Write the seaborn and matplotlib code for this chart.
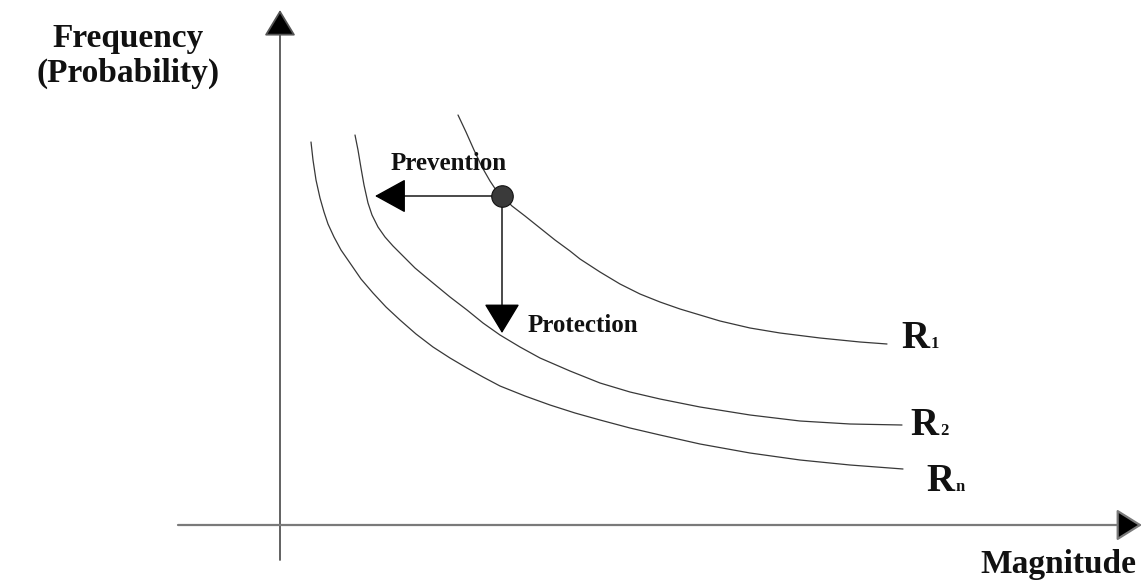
import matplotlib
matplotlib.use("Agg")
import matplotlib.pyplot as plt
import numpy as np
import pandas as pd
import seaborn as sns

# ---- data (diagram coordinates, y grows downward) ----
curve_names = ["R1", "R2", "Rn"]
curve_main = ["R", "R", "R"]
curve_subs = ["1", "2", "n"]

r1_x = [458, 466, 474, 482, 490, 496, 502, 512, 525, 540, 555, 570, 580, 600, 620,
        640, 660, 680, 700, 720, 750, 780, 820, 860, 887]
r1_y = [115, 132, 150, 167, 181, 190, 196, 206, 216, 228, 240, 251, 259, 272, 284,
        294, 302, 309, 315, 321, 328, 333, 338, 342, 344]

r2_x = [355, 358, 361, 364, 368, 372, 378, 385, 393, 400, 415, 433, 450, 467, 483,
        500, 520, 540, 570, 600, 630, 660, 700, 750, 800, 850, 902]
r2_y = [135, 150, 168, 185, 203, 215, 227, 237, 246, 253, 268, 283, 297, 310, 323,
        335, 347, 358, 371, 383, 392, 399, 407, 415, 421, 424, 425]

rn_x = [311, 313, 316, 320, 324, 328, 334, 341, 350, 361, 373, 386, 400, 416, 433,
        450, 467, 483, 500, 525, 550, 575, 600, 630, 660, 700, 750, 800, 850, 903]
rn_y = [142, 160, 180, 198, 212, 224, 237, 250, 263, 279, 293, 307, 320, 334, 347,
        358, 368, 377, 386, 396, 405, 413, 420, 428, 435, 444, 453, 460, 465, 469]

point_x = [502]
point_y = [196]

x_axis_label = "Magnitude"
y_axis_label = "Frequency\n(Probability)"
prevention_label = "Prevention"
protection_label = "Protection"

# ---- layout constants ----
W, H = 1142, 583
origin = (280, 525)
y_axis_bottom, y_axis_top = 560, 10
x_axis_left, x_axis_right = 178, 1142
prevention_tip_x = 375
protection_tip_y = 333
label_pos = [(901, 348), (910, 435), (926, 491)]
sub_offset = 30

sns.set_theme(style="white")
plt.rcParams["font.family"] = ["Liberation Serif", "DejaVu Serif"]

fig = plt.figure(figsize=(W / 100, H / 100), dpi=100)
ax = fig.add_axes([0, 0, 1, 1])
ax.set_xlim(0, W)
ax.set_ylim(H, 0)
ax.axis("off")

df = pd.concat([
    pd.DataFrame({"x": r1_x, "y": r1_y, "curve": "R1"}),
    pd.DataFrame({"x": r2_x, "y": r2_y, "curve": "R2"}),
    pd.DataFrame({"x": rn_x, "y": rn_y, "curve": "Rn"}),
], ignore_index=True)

sns.lineplot(data=df, x="x", y="y", hue="curve", hue_order=curve_names,
             palette={n: "#383838" for n in curve_names}, estimator=None,
             sort=False, legend=False, linewidth=0.9, ax=ax)
for ln in ax.lines:
    ln.set_solid_joinstyle("round")

# axes with arrows
ax.annotate("", xy=(origin[0], y_axis_top), xytext=(origin[0], y_axis_bottom),
            arrowprops=dict(arrowstyle="-|>,head_length=16.5,head_width=10",
                            mutation_scale=1, shrinkA=0, shrinkB=0,
                            ec="#555555", fc="black", lw=1.3),
            annotation_clip=False)
ax.annotate("", xy=(x_axis_right, origin[1]), xytext=(x_axis_left, origin[1]),
            arrowprops=dict(arrowstyle="-|>,head_length=16,head_width=10",
                            mutation_scale=1, shrinkA=0, shrinkB=0,
                            ec="#7a7a7a", fc="black", lw=1.6),
            annotation_clip=False)

# prevention / protection arrows
ax.annotate("", xy=(prevention_tip_x, point_y[0]), xytext=(point_x[0], point_y[0]),
            arrowprops=dict(arrowstyle="-|>,head_length=20,head_width=11",
                            mutation_scale=1, shrinkA=0, shrinkB=0,
                            color="black", lw=1.0))
ax.annotate("", xy=(point_x[0], protection_tip_y), xytext=(point_x[0], point_y[0]),
            arrowprops=dict(arrowstyle="-|>,head_length=19,head_width=11.5",
                            mutation_scale=1, shrinkA=0, shrinkB=0,
                            color="black", lw=1.0))

sns.scatterplot(x=point_x, y=point_y, s=240, color="#3a3a3a", edgecolor="#111111",
                linewidth=0.8, ax=ax, zorder=5, legend=False)

# texts
ax.text(128, 56, y_axis_label, ha="center", va="center", fontsize=24,
        fontweight="bold", linespacing=1.15, color="#111111")
ax.text(1136, 573, x_axis_label, ha="right", va="baseline", fontsize=24,
        fontweight="bold", color="#111111")
ax.text(449, 170, prevention_label, ha="center", va="baseline", fontsize=18,
        fontweight="bold", color="#111111")
ax.text(528, 332, protection_label, ha="left", va="baseline", fontsize=18,
        fontweight="bold", color="#111111")
for main, sub, (lx, ly) in zip(curve_main, curve_subs, label_pos):
    ax.text(lx, ly, main, ha="left", va="baseline", fontsize=28,
            fontweight="bold", color="#111111")
    ax.text(lx + sub_offset, ly, sub, ha="left", va="baseline", fontsize=12,
            fontweight="bold", color="#111111")

fig.savefig("out.png", dpi=100)
